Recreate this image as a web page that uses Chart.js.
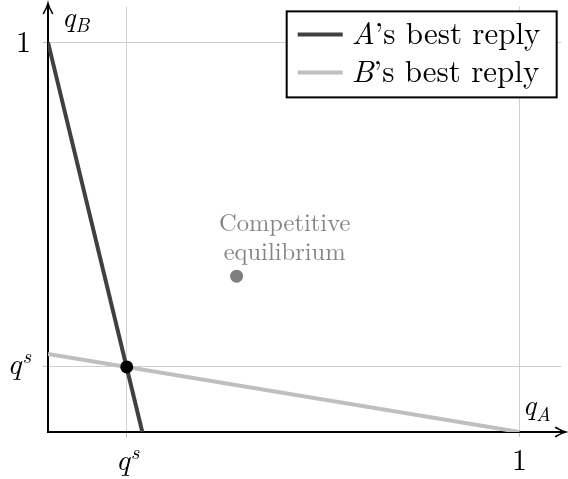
<!DOCTYPE html>
<html>
<head>
<meta charset="utf-8">
<script src="https://cdn.jsdelivr.net/npm/chart.js@4/dist/chart.umd.min.js"></script>
<style>
  html, body { margin: 0; padding: 0; background: #fff; }
  #wrap { width: 568px; height: 479px; }
</style>
</head>
<body>
<div id="wrap"><canvas id="chart"></canvas></div>
<script>
// ---- data ----
const seriesNames = ['A’s best reply', 'B’s best reply'];
const replyA_x = [0, 0.2];
const replyA_y = [1, 0];
const replyB_x = [0, 1];
const replyB_y = [0.2, 0];
const nashPoint = [0.167, 0.167];
const competitivePoint = [0.4, 0.4];
const competitiveLabel = ['Competitive', 'equilibrium'];
const xTicks = [0.167, 1];
const yTicks = [0.167, 1];
const tickLabels = [{ main: 'q', sup: 's' }, { main: '1' }];
const xMax = 1.089;
const yMax = 1.092;
const arrowEnd = 1.1;

const SERIF = '"Latin Modern Roman", "Liberation Serif", serif';
const darkLine = '#404040';
const lightLine = '#bfbfbf';

function toPoints(xs, ys) {
  return xs.map((v, i) => ({ x: v, y: ys[i] }));
}

// italic math text with optional sub / superscript
function mathWidth(ctx, lab, size) {
  const italic = lab.main !== '1';
  ctx.font = (italic ? 'italic ' : '') + size + 'px ' + SERIF;
  let w = ctx.measureText(lab.main).width;
  const small = lab.sup || lab.sub;
  if (small) {
    ctx.font = 'italic ' + Math.round(size * 0.7) + 'px ' + SERIF;
    w += ctx.measureText(small).width + 1;
  }
  return w;
}

function drawMath(ctx, lab, x, baseline, size, align) {
  const w = mathWidth(ctx, lab, size);
  let left = x;
  if (align === 'right') left = x - w;
  if (align === 'center') left = x - w / 2;
  const italic = lab.main !== '1';
  ctx.textAlign = 'left';
  ctx.textBaseline = 'alphabetic';
  ctx.font = (italic ? 'italic ' : '') + size + 'px ' + SERIF;
  ctx.fillText(lab.main, left, baseline);
  left += ctx.measureText(lab.main).width + 1;
  ctx.font = 'italic ' + Math.round(size * 0.7) + 'px ' + SERIF;
  if (lab.sup) ctx.fillText(lab.sup, left, baseline - size * 0.36);
  if (lab.sub) ctx.fillText(lab.sub, left - 1, baseline + size * 0.2);
}

function arrowHead(ctx, tx, ty, dir) {
  // LaTeX style barbed arrow
  const back = 10, out = 4.5;
  ctx.beginPath();
  if (dir === 'right') {
    ctx.moveTo(tx - back, ty - out);
    ctx.quadraticCurveTo(tx - 4, ty - 1, tx, ty);
    ctx.quadraticCurveTo(tx - 4, ty + 1, tx - back, ty + out);
  } else {
    ctx.moveTo(tx - out, ty + back);
    ctx.quadraticCurveTo(tx - 1, ty + 4, tx, ty);
    ctx.quadraticCurveTo(tx + 1, ty + 4, tx + out, ty + back);
  }
  ctx.stroke();
}

const overlay = {
  id: 'overlay',
  afterDraw(chart) {
    const { ctx, chartArea: a, scales: { x, y } } = chart;
    ctx.save();

    // axis ends run out to arrowEnd, then the arrow heads
    const ax = x.getPixelForValue(arrowEnd);
    const ay = y.getPixelForValue(arrowEnd);
    ctx.strokeStyle = '#000';
    ctx.lineWidth = 2;
    ctx.beginPath();
    ctx.moveTo(a.right - 1, a.bottom);
    ctx.lineTo(ax - 1, a.bottom);
    ctx.moveTo(a.left, a.top + 1);
    ctx.lineTo(a.left, ay + 1);
    ctx.stroke();
    ctx.lineWidth = 1.6;
    ctx.lineCap = 'round';
    arrowHead(ctx, ax - 1, a.bottom, 'right');
    arrowHead(ctx, a.left, ay, 'up');

    // tick labels
    ctx.fillStyle = '#000';
    yTicks.forEach((v, i) => {
      const py = y.getPixelForValue(v);
      const lab = tickLabels[i];
      drawMath(ctx, lab, a.left - 17, py + (lab.sup ? 7 : 10), 30, 'right');
    });
    xTicks.forEach((v, i) => {
      const px = x.getPixelForValue(v);
      const lab = tickLabels[i];
      drawMath(ctx, lab, px + (lab.sup ? 1 : 0), a.bottom + 38, 30, 'center');
    });

    // axis titles
    drawMath(ctx, { main: 'q', sub: 'B' }, a.left + 14, a.top + 20, 29, 'left');
    drawMath(ctx, { main: 'q', sub: 'A' }, ax - 44, a.bottom - 17, 29, 'left');

    // competitive equilibrium label
    const cx = x.getPixelForValue(competitivePoint[0]);
    const cy = y.getPixelForValue(competitivePoint[1]);
    ctx.fillStyle = '#858585';
    ctx.font = '24.5px ' + SERIF;
    ctx.textAlign = 'center';
    ctx.textBaseline = 'middle';
    ctx.fillText(competitiveLabel[0], cx + 48, cy - 53);
    ctx.fillText(competitiveLabel[1], cx + 48, cy - 24);

    // legend box
    const lg = { x: ax - 280, y: ay + 8, w: 270, h: 86 };
    ctx.fillStyle = '#fff';
    ctx.fillRect(lg.x, lg.y, lg.w, lg.h);
    ctx.strokeStyle = '#000';
    ctx.lineWidth = 2;
    ctx.strokeRect(lg.x, lg.y, lg.w, lg.h);

    const colors = [darkLine, lightLine];
    seriesNames.forEach((name, i) => {
      const ly = lg.y + 23 + i * 38;
      ctx.strokeStyle = colors[i];
      ctx.lineWidth = 4;
      ctx.lineCap = 'butt';
      ctx.beginPath();
      ctx.moveTo(lg.x + 11, ly);
      ctx.lineTo(lg.x + 56, ly);
      ctx.stroke();

      ctx.fillStyle = '#000';
      ctx.textAlign = 'left';
      ctx.textBaseline = 'alphabetic';
      let tx = lg.x + 65;
      ctx.font = 'italic 31px ' + SERIF;
      ctx.fillText(name[0], tx, ly + 10);
      tx += ctx.measureText(name[0]).width;
      ctx.font = '31px ' + SERIF;
      ctx.fillText(name.slice(1), tx, ly + 10);
    });

    ctx.restore();
  }
};

const axisCommon = {
  type: 'linear',
  min: 0,
  ticks: { display: false },
  grid: { color: '#cfcfcf', lineWidth: 1, drawTicks: true, tickLength: 5, tickColor: '#bdbdbd' },
  border: { color: '#000', width: 2 }
};

new Chart(document.getElementById('chart'), {
  type: 'scatter',
  data: {
    datasets: [
      {
        label: 'Nash',
        data: [{ x: nashPoint[0], y: nashPoint[1] }],
        pointRadius: 6.5,
        pointBackgroundColor: '#000',
        pointBorderWidth: 0,
        order: 0
      },
      {
        label: 'Competitive equilibrium',
        data: [{ x: competitivePoint[0], y: competitivePoint[1] }],
        pointRadius: 6.5,
        pointBackgroundColor: '#7f7f7f',
        pointBorderWidth: 0,
        order: 1
      },
      {
        label: seriesNames[0],
        data: toPoints(replyA_x, replyA_y),
        showLine: true,
        borderColor: darkLine,
        borderWidth: 4,
        pointRadius: 0,
        order: 2
      },
      {
        label: seriesNames[1],
        data: toPoints(replyB_x, replyB_y),
        showLine: true,
        borderColor: lightLine,
        borderWidth: 4,
        pointRadius: 0,
        order: 3
      }
    ]
  },
  options: {
    responsive: true,
    maintainAspectRatio: false,
    animation: false,
    layout: { padding: { left: 43, top: 0, right: 0, bottom: 42 } },
    plugins: { legend: { display: false }, tooltip: { enabled: false } },
    scales: {
      x: Object.assign({}, axisCommon, {
        max: xMax,
        afterBuildTicks: s => { s.ticks = xTicks.map(v => ({ value: v })); }
      }),
      y: Object.assign({}, axisCommon, {
        max: yMax,
        afterBuildTicks: s => { s.ticks = yTicks.map(v => ({ value: v })); }
      })
    }
  },
  plugins: [overlay]
});
</script>
</body>
</html>
